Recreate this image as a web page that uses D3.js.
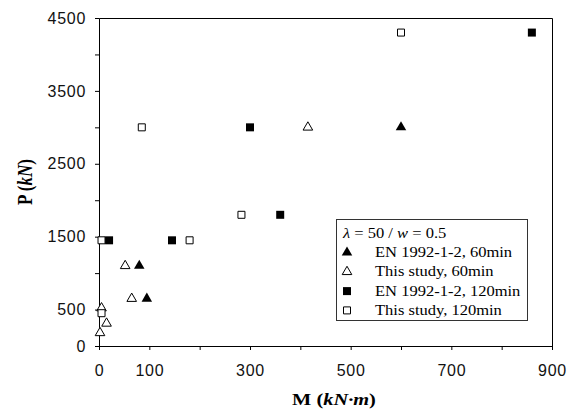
<!DOCTYPE html>
<html>
<head>
<meta charset="utf-8">
<script src="https://cdn.jsdelivr.net/npm/d3@7/dist/d3.min.js"></script>
<style>
  html, body { margin: 0; padding: 0; background: #fff; }
  svg { display: block; }
</style>
</head>
<body>
<div id="chart"></div>
<script>
// data (M in kN·m, P in kN)
var en60M = [600, 80, 95];
var en60P = [3000, 1100, 650];
var study60M = [415, 52, 65, 5, 15, 2];
var study60P = [3000, 1100, 650, 520, 310, 180];
var en120M = [860, 300, 360, 145, 20];
var en120P = [4300, 3000, 1800, 1450, 1450];
var study120M = [600, 85, 283, 180, 5, 5];
var study120P = [4300, 3000, 1800, 1450, 1450, 450];

var xTicks = [0, 100, 200, 300, 400, 500, 600, 700, 800, 900];
var xLabels = [0, 100, 300, 500, 700, 900];
var yTicks = [0, 500, 1000, 1500, 2000, 2500, 3000, 3500, 4000, 4500];
var yLabels = [0, 500, 1500, 2500, 3500, 4500];

var seriesNames = ["EN 1992-1-2, 60min", "This study, 60min", "EN 1992-1-2, 120min", "This study, 120min"];

var series = [
  {name: seriesNames[0], M: en60M, P: en60P, shape: "tri", filled: true},
  {name: seriesNames[1], M: study60M, P: study60P, shape: "tri", filled: false},
  {name: seriesNames[2], M: en120M, P: en120P, shape: "sq", filled: true},
  {name: seriesNames[3], M: study120M, P: study120P, shape: "sq", filled: false}
];

var W = 577, H = 412,
    margin = {top: 18, left: 99},
    width = 453, height = 328;

var svg = d3.select("#chart").append("svg")
    .attr("width", W).attr("height", H);

var g = svg.append("g")
    .attr("transform", "translate(" + margin.left + "," + margin.top + ")");

var x = d3.scaleLinear().domain([0, 900]).range([0, width]);
var y = d3.scaleLinear().domain([0, 4500]).range([height, 0]);

// frame (top + right)
g.append("path")
    .attr("d", "M0.5,0.5H" + (width + 0.5) + "V" + (height + 0.5))
    .attr("fill", "none").attr("stroke", "#000").attr("stroke-width", 1);

var tickFont = "'Liberation Sans', Arial, sans-serif";

// x axis
var xAxis = g.append("g")
    .attr("transform", "translate(0," + height + ")")
    .call(d3.axisBottom(x).tickValues(xTicks).tickSize(4).tickPadding(15)
      .tickFormat(function(d){ return xLabels.indexOf(d) >= 0 ? d : ""; }));

// y axis
var yAxis = g.append("g")
    .call(d3.axisLeft(y).tickValues(yTicks).tickSize(4).tickPadding(9)
      .tickFormat(function(d){ return yLabels.indexOf(d) >= 0 ? d : ""; }));

[xAxis, yAxis].forEach(function(a){
  a.select(".domain").attr("stroke", "#000");
  a.selectAll(".tick line").attr("stroke", "#000");
  a.selectAll(".tick text")
    .attr("fill", "#111")
    .style("font-family", tickFont)
    .style("font-size", "16px")
    .style("letter-spacing", "0.7px");
});

// markers
function symbolPath(shape, filled) {
  if (shape === "sq") return d3.symbol().type(d3.symbolSquare).size(filled ? 64 : 49)();
  return d3.symbol().type(d3.symbolTriangle).size(filled ? 48 : 40)();
}

series.forEach(function(s){
  var pts = s.M.map(function(m, i){ return {m: m, p: s.P[i]}; });
  g.append("g").selectAll("path")
    .data(pts)
    .enter().append("path")
    .attr("transform", function(d){ return "translate(" + x(d.m) + "," + y(d.p) + ")"; })
    .attr("d", symbolPath(s.shape, s.filled))
    .attr("fill", s.filled ? "#000" : "#fff")
    .attr("stroke", s.filled ? "none" : "#000")
    .attr("stroke-width", 1);
});

// axis titles
var serif = "'Liberation Serif', 'Times New Roman', serif";

var xTitle = svg.append("text")
    .attr("transform", "translate(334,405) scale(1.2,1)")
    .attr("text-anchor", "middle")
    .style("font-family", serif).style("font-size", "17px").style("font-weight", "bold");
xTitle.append("tspan").text("M (");
xTitle.append("tspan").style("font-style", "italic").text("kN·m");
xTitle.append("tspan").text(")");

var yTitle = svg.append("text")
    .attr("transform", "translate(32," + (margin.top + height / 2) + ") rotate(-90) scale(1,1.2)")
    .attr("text-anchor", "middle")
    .style("font-family", serif).style("font-size", "17px").style("font-weight", "bold");
yTitle.append("tspan").text("P (");
yTitle.append("tspan").style("font-style", "italic").text("kN");
yTitle.append("tspan").text(")");

// legend
var leg = svg.append("g").attr("transform", "translate(336,219)");
leg.append("rect")
    .attr("x", 0.5).attr("y", 0.5).attr("width", 191).attr("height", 101)
    .attr("fill", "#fff").attr("stroke", "#333").attr("stroke-width", 1);

var lt = leg.append("text")
    .attr("transform", "translate(7,19) scale(1.18,1)")
    .style("font-family", serif).style("font-size", "14px");
lt.append("tspan").style("font-style", "italic").text("λ");
lt.append("tspan").text(" = 50 / ");
lt.append("tspan").style("font-style", "italic").text("w");
lt.append("tspan").text(" = 0.5");

series.forEach(function(s, i){
  var yy = 38 + i * 19.3;
  leg.append("path")
    .attr("transform", "translate(11," + (yy - 4.5) + ")")
    .attr("d", symbolPath(s.shape, s.filled))
    .attr("fill", s.filled ? "#000" : "#fff")
    .attr("stroke", s.filled ? "none" : "#000")
    .attr("stroke-width", 1);
  leg.append("text")
    .attr("transform", "translate(39," + yy + ") scale(1.18,1)")
    .style("font-family", serif).style("font-size", "14px")
    .text(s.name);
});
</script>
</body>
</html>
